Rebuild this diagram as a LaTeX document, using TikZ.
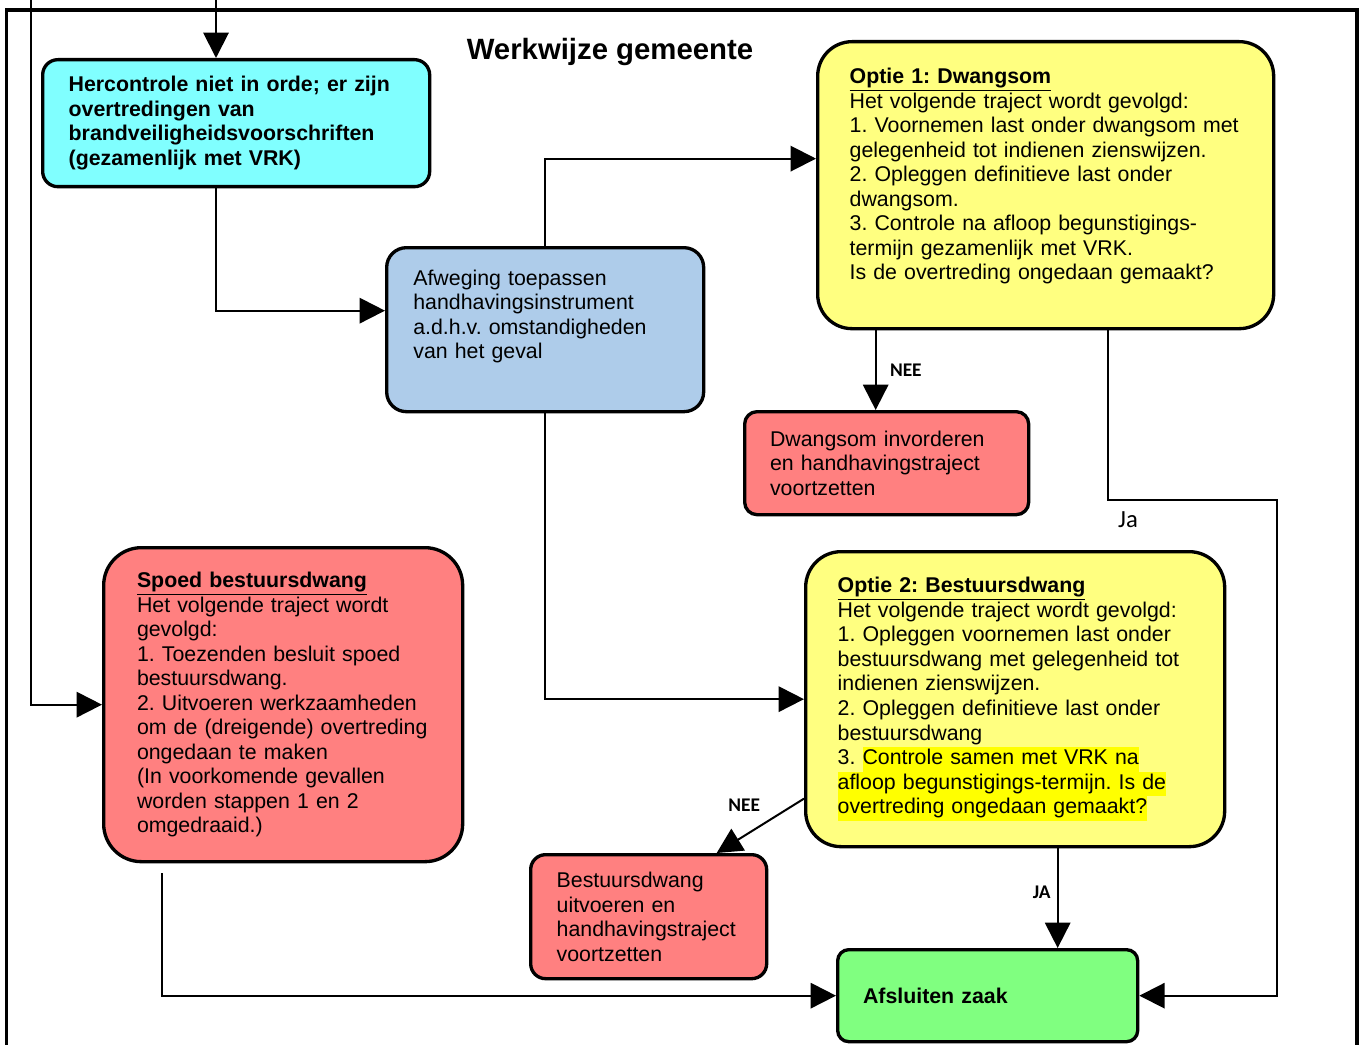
\documentclass[tikz,border=0pt]{standalone}
\usepackage{fontspec}
\setmainfont{Liberation Sans}
\newfontfamily\calibrifont{Carlito}
\usetikzlibrary{arrows.meta}
\setlength{\fboxsep}{0pt}
\frenchspacing

\begin{document}
\begin{tikzpicture}[x=0.75pt,y=-0.75pt,
  box/.style={draw=black,line width=2.5pt,anchor=north west,align=left,
    font=\fontsize{16}{18.4}\selectfont},
  arr/.style={line width=1.5pt,-{Triangle[length=19pt,width=19pt]}},
  lab/.style={font=\calibrifont\bfseries\fontsize{14.5}{16}\selectfont,inner sep=1pt},
  jalab/.style={font=\calibrifont\fontsize{18.5}{20}\selectfont,inner sep=1pt}]
\definecolor{cyanFill}{RGB}{128,255,255}
\definecolor{blueFill}{RGB}{174,204,234}
\definecolor{yellowFill}{RGB}{255,255,128}
\definecolor{redFill}{RGB}{255,128,128}
\definecolor{greenFill}{RGB}{128,255,128}
\definecolor{hl}{RGB}{255,255,0}
\path[use as bounding box,fill=white] (0,0) rectangle (1363,1045);

% frame
\draw[line width=2.5pt] (6.5,1045) -- (6.5,10) -- (1357,10) -- (1357,1045);

\node[font=\fontsize{22}{26}\selectfont\bfseries] (title) at (610,52) {Werkwijze gemeente};

\node[box,fill=cyanFill,minimum width=290.25pt,minimum height=95.25pt,inner xsep=19.5pt,
  text width=251.25pt,rounded corners=11.4pt,font=\fontsize{16}{18.4}\selectfont\bfseries]
  (herc) at (41,58) {Hercontrole niet in orde; er zijn\\overtredingen van\\brandveiligheidsvoorschriften\\(gezamenlijk met VRK)};

\node[box,fill=blueFill,minimum width=237.75pt,minimum height=123pt,inner xsep=20pt,
  text width=197.75pt,rounded corners=14.8pt,text depth=78pt]
  (afw) at (385,246) {Afweging toepassen\\handhavingsinstrument\\a.d.h.v. omstandigheden\\van het geval};

\node[box,fill=yellowFill,minimum width=342pt,minimum height=215.25pt,inner xsep=24pt,
  text width=294pt,rounded corners=25.8pt,text depth=164pt]
  (opt1) at (816,40) {\underline{\textbf{Optie 1: Dwangsom}}\\Het volgende traject wordt gevolgd:\\1. Voornemen last onder dwangsom met\\gelegenheid tot indienen zienswijzen.\\2. Opleggen definitieve last onder\\dwangsom.\\3. Controle na afloop begunstigings-\\termijn gezamenlijk met VRK.\\Is de overtreding ongedaan gemaakt?};

\node[box,fill=redFill,minimum width=213pt,minimum height=77.25pt,inner xsep=19pt,
  text width=175pt,rounded corners=9.3pt]
  (dwang) at (743,410) {Dwangsom invorderen\\en handhavingstraject\\voortzetten};

\node[box,fill=redFill,minimum width=269.25pt,minimum height=235.5pt,inner xsep=25pt,
  text width=219.25pt,rounded corners=28.3pt]
  (spoed) at (102,546) {\underline{\textbf{Spoed bestuursdwang}}\\Het volgende traject wordt\\gevolgd:\\1. Toezenden besluit spoed\\bestuursdwang.\\2. Uitvoeren werkzaamheden\\om de (dreigende) overtreding\\ongedaan te maken\\(In voorkomende gevallen\\worden stappen 1 en 2\\omgedraaid.)};

\node[box,fill=yellowFill,minimum width=314.25pt,minimum height=221.25pt,inner xsep=24pt,
  text width=266.25pt,rounded corners=26.6pt]
  (opt2) at (804,550) {\underline{\textbf{Optie 2: Bestuursdwang}}\\Het volgende traject wordt gevolgd:\\1. Opleggen voornemen last onder\\bestuursdwang met gelegenheid tot\\indienen zienswijzen.\\2. Opleggen definitieve last onder\\bestuursdwang\\3. \colorbox{hl}{\strut Controle samen met VRK na}\\\colorbox{hl}{\strut afloop begunstigings-termijn. Is de}\\\colorbox{hl}{\strut overtreding ongedaan gemaakt?}};

\node[box,fill=redFill,minimum width=177pt,minimum height=93pt,inner xsep=19.5pt,
  text width=138pt,rounded corners=11.2pt]
  (bestu) at (529,853) {Bestuursdwang\\uitvoeren en\\handhavingstraject\\voortzetten};

\node[box,fill=greenFill,minimum width=225pt,minimum height=69pt,inner xsep=19pt,
  text width=187pt,rounded corners=8.3pt,font=\fontsize{16}{18.4}\selectfont\bfseries]
  (afsl) at (836,948) {Afsluiten zaak};

% connectors
\coordinate (topA) at (31,0);
\coordinate (topB) at (216,0);
\coordinate (jaBend) at (1277,500);

\draw[arr] (topB) -- (topB |- herc.north);
\draw[arr] (topA) |- (spoed.west);
\draw[arr] (herc.south -| topB) |- ([yshift=14.25pt]afw.west);
\draw[arr] (afw.north) |- ([yshift=19.9pt]opt1.west);
\draw[arr] (afw.south) |- (opt2.west);
\draw[arr] ([xshift=-8.25pt]dwang.north |- opt1.south) -- node[lab,right=9pt] {NEE} ([xshift=-8.25pt]dwang.north);
\draw[arr] ([xshift=46.5pt]opt1.south) |- node[jalab,pos=0.56,below=7pt] {Ja} (jaBend) |- (afsl.east);
\draw[arr] ([yshift=-74.6pt]opt2.west) -- node[lab,pos=0.4,above left=5pt] {NEE} ([xshift=51pt]bestu.north);
\draw[arr] ([xshift=52.5pt]afsl.north |- opt2.south) -- node[lab,pos=0.44,left=3.5pt] {JA} ([xshift=52.5pt]afsl.north);
\draw[arr] ([xshift=-91.1pt,yshift=-7.5pt]spoed.south) |- (afsl.west);
\end{tikzpicture}
\end{document}
